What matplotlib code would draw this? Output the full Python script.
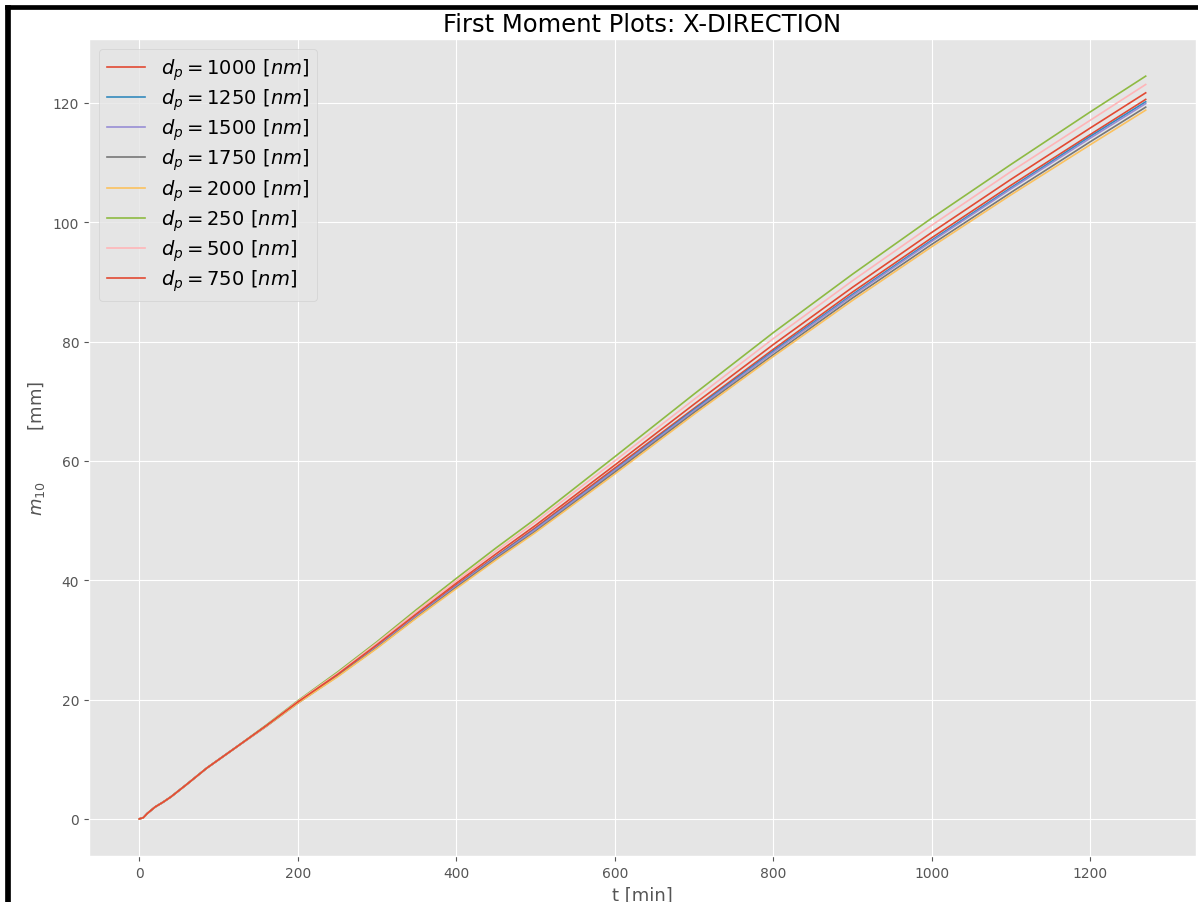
import numpy as np
import matplotlib
matplotlib.use('Agg')
import matplotlib.pyplot as plt
from matplotlib.patches import Rectangle

plt.style.use('ggplot')

# time axis [min]
t = [0, 5, 10, 20, 30, 40, 60, 85, 120, 160, 200, 250, 300, 350, 400, 450,
     500, 600, 700, 800, 900, 1000, 1100, 1200, 1270]

early = [0.0, 0.2, 0.9, 2.0, 2.8, 3.7, 5.8, 8.5, 11.8]

# first moment m10 [mm] per particle diameter
m_1000 = early + [15.6, 19.5, 24.1, 29.0, 34.1, 39.2, 44.0, 48.8, 58.8, 68.8,
                  78.7, 88.3, 97.4, 106.2, 114.7, 120.6]
m_1250 = early + [15.6, 19.5, 24.0, 28.9, 34.0, 39.0, 43.9, 48.6, 58.5, 68.6,
                  78.4, 87.9, 97.0, 105.8, 114.4, 120.2]
m_1500 = early + [15.5, 19.5, 24.0, 28.9, 34.0, 39.0, 43.8, 48.5, 58.4, 68.4,
                  78.2, 87.7, 96.8, 105.6, 114.1, 119.9]
m_1750 = early + [15.5, 19.4, 23.9, 28.7, 33.8, 38.8, 43.6, 48.2, 58.1, 68.1,
                  77.8, 87.3, 96.3, 105.0, 113.5, 119.3]
m_2000 = early + [15.5, 19.4, 23.8, 28.6, 33.7, 38.6, 43.4, 48.0, 57.8, 67.8,
                  77.5, 86.9, 95.9, 104.6, 113.0, 118.8]
m_250 = early + [15.7, 19.8, 24.6, 29.7, 35.1, 40.3, 45.4, 50.3, 60.7, 71.2,
                 81.5, 91.3, 100.7, 109.7, 118.5, 124.5]
m_500 = early + [15.6, 19.7, 24.4, 29.5, 34.8, 39.9, 44.9, 49.8, 60.0, 70.3,
                 80.5, 90.2, 99.5, 108.5, 117.1, 123.1]
m_750 = early + [15.6, 19.6, 24.2, 29.2, 34.4, 39.5, 44.4, 49.2, 59.3, 69.5,
                 79.5, 89.1, 98.3, 107.2, 115.8, 121.7]

diameters = ['1000', '1250', '1500', '1750', '2000', '250', '500', '750']
series = [m_1000, m_1250, m_1500, m_1750, m_2000, m_250, m_500, m_750]

fig = plt.figure(figsize=(11.98, 9.03), dpi=100)
ax = fig.add_axes([89/1198, 46/903, (1196-89)/1198, (857-40)/903])

for d, m in zip(diameters, series):
    ax.plot(t, m, lw=1.2, label=r'$d_p = %s\ [nm]$' % d)

ax.set_title('First Moment Plots: X-DIRECTION', fontsize=17.5, color='black')
ax.set_xlabel('t [min]', fontsize=13)
ax.set_ylabel(r'$m_{10}$         [mm]', fontsize=13)
ax.tick_params(labelsize=10)
ax.legend(loc='upper left', fontsize=14, labelspacing=0.24)

# black frame of the screenshot
fig.patches.append(Rectangle((5/1198, 0), 5/1198, 897/903,
                             transform=fig.transFigure, color='black'))
fig.patches.append(Rectangle((5/1198, 893/903), 1193/1198, 4/903,
                             transform=fig.transFigure, color='black'))

fig.savefig('out.png', dpi=100)
